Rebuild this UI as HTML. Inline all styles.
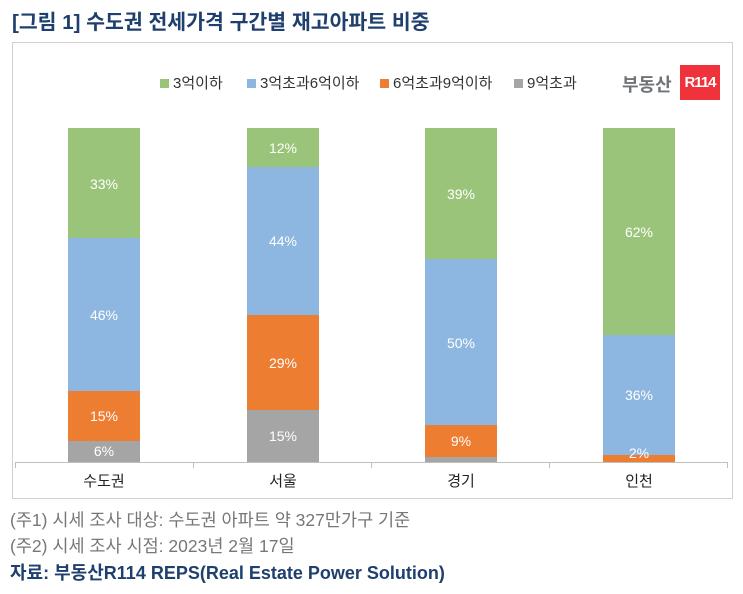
<!DOCTYPE html><html><head><meta charset="utf-8"><style>
body{margin:0;width:743px;height:594px;background:#fff;font-family:"Liberation Sans","Noto Sans CJK KR",sans-serif;position:relative;overflow:hidden}
.a{position:absolute}
.t{color:#fff;font-size:14px;text-align:center;width:72px}
.lg{position:absolute;top:72px;font-size:15px;color:#333;white-space:nowrap}
.lg i{display:inline-block;width:9px;height:9px;margin-right:4px}
</style></head><body>
<div class="a" style="left:12px;top:5px;font-size:20.5px;font-weight:bold;color:#1f3f6e;white-space:nowrap">[그림 1] 수도권 전세가격 구간별 재고아파트 비중</div>
<div class="a" style="left:12px;top:42px;width:719px;height:455px;border:1px solid #d0d0d0"></div>
<div class="lg" style="left:160px"><i style="background:#9bc47b"></i>3억이하</div>
<div class="lg" style="left:247px"><i style="background:#8db6e0"></i>3억초과6억이하</div>
<div class="lg" style="left:380px"><i style="background:#ed7d31"></i>6억초과9억이하</div>
<div class="lg" style="left:514px"><i style="background:#a5a5a5"></i>9억초과</div>
<div class="a" style="left:622px;top:71px;font-size:18px;font-weight:bold;color:#6f7478">부동산</div>
<div class="a" style="left:680px;top:65px;width:40px;height:35px;background:#f0323c;color:#fff;font-weight:bold;font-size:15px;line-height:35px;text-align:center;letter-spacing:-1px">R114</div>
<div class="a" style="left:68px;top:128px;width:72px;height:334px">
<div style="height:110px;background:#9bc47b"></div><div style="height:153px;background:#8db6e0"></div><div style="height:50px;background:#ed7d31"></div><div style="height:21px;background:#a5a5a5"></div></div>
<div class="a" style="left:247px;top:128px;width:72px;height:334px">
<div style="height:39px;background:#9bc47b"></div><div style="height:148px;background:#8db6e0"></div><div style="height:95px;background:#ed7d31"></div><div style="height:52px;background:#a5a5a5"></div></div>
<div class="a" style="left:425px;top:128px;width:72px;height:334px">
<div style="height:131px;background:#9bc47b"></div><div style="height:166px;background:#8db6e0"></div><div style="height:32px;background:#ed7d31"></div><div style="height:5px;background:#a5a5a5"></div></div>
<div class="a" style="left:603px;top:128px;width:72px;height:334px">
<div style="height:207px;background:#9bc47b"></div><div style="height:120px;background:#8db6e0"></div><div style="height:7px;background:#ed7d31"></div></div>
<div class="a t" style="left:68px;top:176px">33%</div><div class="a t" style="left:68px;top:307px">46%</div><div class="a t" style="left:68px;top:408px">15%</div><div class="a t" style="left:68px;top:443px">6%</div>
<div class="a t" style="left:247px;top:140px">12%</div><div class="a t" style="left:247px;top:233px">44%</div><div class="a t" style="left:247px;top:355px">29%</div><div class="a t" style="left:247px;top:428px">15%</div>
<div class="a t" style="left:425px;top:186px">39%</div><div class="a t" style="left:425px;top:335px">50%</div><div class="a t" style="left:425px;top:433px">9%</div>
<div class="a t" style="left:603px;top:224px">62%</div><div class="a t" style="left:603px;top:387px">36%</div><div class="a t" style="left:603px;top:445px">2%</div>
<div class="a" style="left:15px;top:462px;width:713px;height:1px;background:#bfbfbf"></div>
<div class="a" style="left:15px;top:462px;width:1px;height:6px;background:#bfbfbf"></div>
<div class="a" style="left:193px;top:462px;width:1px;height:6px;background:#bfbfbf"></div>
<div class="a" style="left:371px;top:462px;width:1px;height:6px;background:#bfbfbf"></div>
<div class="a" style="left:549px;top:462px;width:1px;height:6px;background:#bfbfbf"></div>
<div class="a" style="left:727px;top:462px;width:1px;height:6px;background:#bfbfbf"></div>
<div class="a" style="left:54px;top:470px;width:100px;text-align:center;font-size:15px;color:#222">수도권</div>
<div class="a" style="left:233px;top:470px;width:100px;text-align:center;font-size:15px;color:#222">서울</div>
<div class="a" style="left:411px;top:470px;width:100px;text-align:center;font-size:15px;color:#222">경기</div>
<div class="a" style="left:589px;top:470px;width:100px;text-align:center;font-size:15px;color:#222">인천</div>
<div class="a" style="left:10px;top:507px;font-size:17.5px;color:#777;white-space:nowrap">(주1) 시세 조사 대상: 수도권 아파트 약 327만가구 기준</div>
<div class="a" style="left:10px;top:533px;font-size:17.5px;color:#777;white-space:nowrap">(주2) 시세 조사 시점: 2023년 2월 17일</div>
<div class="a" style="left:10px;top:559px;font-size:18px;font-weight:bold;color:#1f3f6e;white-space:nowrap">자료: 부동산R114 REPS(Real Estate Power Solution)</div>
</body></html>
